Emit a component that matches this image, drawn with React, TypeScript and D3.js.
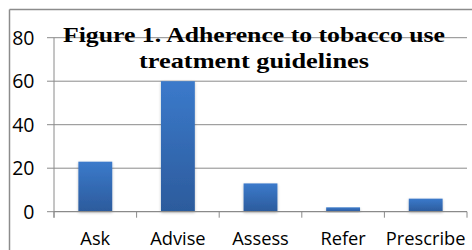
import React from 'react';
import * as d3 from 'd3';

const categories = ['Ask', 'Advise', 'Assess', 'Refer', 'Prescribe'];
const values = [23, 60, 13, 2, 6];
const yTicks = [0, 20, 40, 60, 80];
const titleLines = ['Figure 1. Adherence to tobacco use', 'treatment guidelines'];

const W = 472;
const H = 250;
const plot = { left: 54, right: 467, top: 37.7, bottom: 211.7 };

export default function App() {
  const x = d3.scaleBand<string>()
    .domain(categories)
    .range([plot.left, plot.right])
    .paddingInner(0.59)
    .paddingOuter(0.295);

  const y = d3.scaleLinear().domain([0, 80]).range([plot.bottom, plot.top]);

  const step = x.step();
  const tickXs = d3.range(categories.length + 1).map((i) => plot.left + i * step);

  return (
    <svg
      width={W}
      height={H}
      style={{ position: 'fixed', left: 0, top: 0, background: '#fff' }}
    >
      <defs>
        <linearGradient id="barGrad" x1="0" y1="0" x2="0" y2="1">
          <stop offset="0%" stopColor="#3b7acb" />
          <stop offset="100%" stopColor="#2c5b9c" />
        </linearGradient>
        <filter id="shadow" x="-20%" y="-20%" width="140%" height="140%">
          <feGaussianBlur in="SourceAlpha" stdDeviation="1.5" />
          <feOffset dx="0" dy="1" />
          <feComponentTransfer>
            <feFuncA type="linear" slope="0.25" />
          </feComponentTransfer>
          <feMerge>
            <feMergeNode />
            <feMergeNode in="SourceGraphic" />
          </feMerge>
        </filter>
      </defs>

      {/* outer frame */}
      <line x1={9.5} x2={W} y1={9.5} y2={9.5} stroke="#8c8c8c" strokeWidth={1.5} />
      <line x1={9.5} x2={9.5} y1={9.5} y2={H} stroke="#8c8c8c" strokeWidth={1.5} />

      {/* gridlines */}
      {yTicks.filter((t) => t > 0).map((t) => (
        <line
          key={t}
          x1={plot.left}
          x2={plot.right}
          y1={y(t)}
          y2={y(t)}
          stroke="#8a8a8a"
          strokeWidth={1}
        />
      ))}

      {/* bars */}
      {categories.map((c, i) => (
        <rect
          key={c}
          x={x(c)}
          y={y(values[i])}
          width={x.bandwidth()}
          height={y(0) - y(values[i])}
          fill="url(#barGrad)"
          filter="url(#shadow)"
        />
      ))}

      {/* y axis */}
      <line x1={plot.left} x2={plot.left} y1={plot.top} y2={plot.bottom + 6} stroke="#8a8a8a" />
      {yTicks.map((t) => (
        <g key={t}>
          <line x1={plot.left - 7} x2={plot.left} y1={y(t)} y2={y(t)} stroke="#8a8a8a" />
          <text
            x={34.5}
            y={y(t)}
            dy="0.36em"
            textAnchor="end"
            fontFamily="'Open Sans', sans-serif"
            fontSize={19.5}
            fill="#000"
          >
            {t}
          </text>
        </g>
      ))}

      {/* x axis */}
      <line x1={plot.left} x2={plot.right} y1={plot.bottom} y2={plot.bottom} stroke="#8a8a8a" strokeWidth={1.2} />
      {tickXs.map((tx, i) => (
        <line key={i} x1={tx} x2={tx} y1={plot.bottom} y2={plot.bottom + 6} stroke="#8a8a8a" />
      ))}
      {categories.map((c) => (
        <text
          key={c}
          x={(x(c) ?? 0) + x.bandwidth() / 2}
          y={244.5}
          textAnchor="middle"
          fontFamily="'Open Sans', sans-serif"
          fontSize={18.3}
          fill="#000"
        >
          {c}
        </text>
      ))}

      {/* title */}
      {titleLines.map((line, i) => (
        <text
          key={i}
          x={254}
          y={42 + i * 25.5}
          textAnchor="middle"
          fontFamily="'Liberation Serif', serif"
          fontWeight="bold"
          fontSize={22}
          textLength={i === 0 ? 382 : 230}
          lengthAdjust="spacingAndGlyphs"
          fill="#000"
        >
          {line}
        </text>
      ))}
    </svg>
  );
}
